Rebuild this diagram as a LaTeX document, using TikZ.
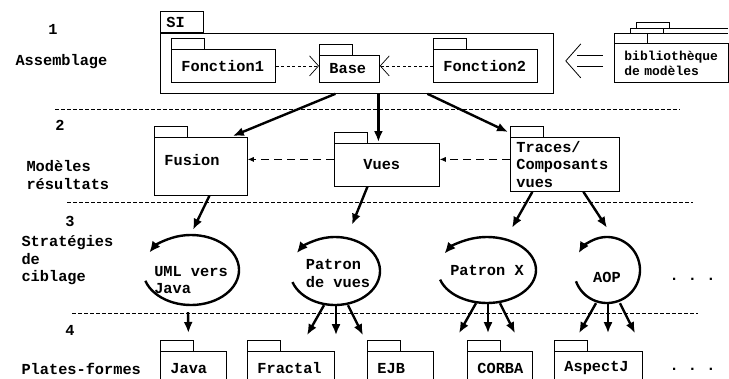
\documentclass[tikz,border=0pt]{standalone}
\usepackage{fontspec}
\setmonofont{Liberation Mono}
\usetikzlibrary{positioning, arrows.meta, shapes.geometric}
\newcommand{\pkgfont}{\ttfamily\bfseries\fontsize{15.3}{17.5}\selectfont}
\newcommand{\libfont}{\ttfamily\bfseries\fontsize{13}{15}\selectfont}
\newcommand{\pkgtab}[1]{\draw[pkgline] (#1.north west) rectangle ++(33,11);}
\tikzset{
pkgline/.style={line width=0.8pt},
pkg/.style={
  draw, 
  pkgline, 
  anchor=north west, 
  inner xsep=10pt, inner ysep=0pt,
  font=\pkgfont, align=left
  }, 
cycle/.style={ellipse, inner sep=0pt},
flow/.style={-{Latex[length=11pt,width=9pt]}, line width=2.4pt},
loop/.style={-{Latex[length=11pt,width=10pt]}, line width=2.4pt},
use/.style={-{Straight Barb[length=9pt,width=20pt]}, line width=0.7pt, dash pattern=on 3pt off 2.5pt},
dep/.style={-{Latex[length=6pt,width=5pt]}, line width=0.7pt, dash pattern=on 8pt off 5pt},
sep/.style={line width=0.7pt, dash pattern=on 3.5pt off 2.5pt},
level/.style={font=\pkgfont, anchor=west, align=left}
}
\begin{document}
\begin{tikzpicture}[x=1pt, y=1pt]
\useasboundingbox (0,0) rectangle (729,-378);

% niveaux
\node[font=\pkgfont] (n1) at (53,-29) {1};
\node[level] (l1) at (12,-62) {Assemblage};
\node[font=\pkgfont] (n2) at (60,-125) {2};
\node[level] (l2) at (23,-175) {Modèles\\résultats};
\node[font=\pkgfont] (n3) at (70,-221) {3};
\node[level] (l3) at (18,-260.5) {Stratégies\\de\\ciblage};
\node[font=\pkgfont] (n4) at (70,-330) {4};
\node[level] (l4) at (18,-368.5) {Plates-formes};

\draw[sep] (55,-109) -- (680,-109);
\draw[sep] (67,-202) -- (693,-202);
\draw[sep] (72,-313) -- (698,-313);

% 1: assemblage
\node[pkg, minimum width=393pt, minimum height=60pt] (si) at (160,-33) {};
\node[pkg, anchor=south west, inner xsep=6pt, text width=31pt, minimum height=21pt] (sitab) at (si.north west) {SI};
\node[pkg, text width=84pt, minimum height=33pt] (f1) at (171,-49) {Fonction1};
\node[pkg, text width=40pt, minimum height=27pt] (base) at (319,-55) {Base};
\node[pkg, text width=84pt, minimum height=33pt] (f2) at (433,-49) {Fonction2};
\pkgtab{f1}
\pkgtab{base}
\pkgtab{f2}
\draw[use] (f1.east) -- (base.west |- f1.east);
\draw[use] (f2.west) -- (base.east |- f2.west);

% bibliotheque
\draw[pkgline] (636,-28) rectangle (669,-22);
\draw[pkgline] (669,-28) -- (728,-28);
\draw[pkgline] (630,-33) rectangle (663,-28);
\draw[pkgline] (663,-33) -- (728,-33);
\node[pkg, font=\libfont, text width=94pt, minimum height=39pt] (lib) at (614,-43) {bibliothèque\\de modèles};
\draw[pkgline, fill=white] (lib.north west) rectangle ++(33,10);
\coordinate (libend) at ([shift={(-11pt,2pt)}]lib.west);
\coordinate (sitip) at ([shift={(12pt,2.5pt)}]si.east);
\draw[pkgline, double, double distance=10pt] (libend) -- ([xshift=11pt]sitip);
\draw[pkgline] ([shift={(15pt,17pt)}]sitip) -- (sitip) -- ([shift={(15pt,-17pt)}]sitip);

% 2: modeles resultats
\node[pkg, text width=73pt, text depth=12pt, minimum height=58pt] (fusion) at (154,-137) {Fusion};
\node[pkg, inner xsep=29pt, text width=47pt, minimum height=43pt] (vues) at (334,-143) {Vues};
\node[pkg, inner xsep=6pt, text width=97pt, minimum height=54pt] (traces) at (510,-137) {Traces/\\Composants\\vues};
\pkgtab{fusion}
\pkgtab{vues}
\pkgtab{traces}
\draw[dep] ([yshift=5.5pt]vues.west) coordinate (vw) -- (vw -| fusion.east);
\draw[dep] ([yshift=5pt]traces.west) coordinate (tw) -- (tw -| vues.east);

\draw[flow] ([xshift=-21.5pt]si.south) -- ([shift={(-15pt,1pt)}]fusion.north east);
\draw[flow] ([xshift=21.5pt]si.south) -- ([xshift=-8.5pt,yshift=1pt]vues.north);
\draw[flow] ([xshift=70.5pt]si.south) -- ([shift={(-2pt,5pt)}]traces.north west);

% 3: strategies de ciblage
\node[cycle, minimum width=96pt, minimum height=70pt] (uml) at (191,-270) {};
\node[cycle, minimum width=90pt, minimum height=68pt] (pdv) at (335,-271) {};
\node[cycle, minimum width=98pt, minimum height=66pt] (px) at (487,-270) {};
\node[cycle, minimum width=66pt, minimum height=66pt] (aop) at (607,-270) {};
\node[font=\pkgfont, align=left] (umltxt) at (191,-280) {UML vers\\Java};
\node[font=\pkgfont, align=left] (pdvtxt) at (338,-273.5) {Patron\\de vues};
\node[font=\pkgfont] (pxtxt) at (487,-270) {Patron X};
\node[font=\pkgfont] (aoptxt) at (607,-277) {AOP};
\node[font=\pkgfont] (dots3) at (692.5,-279) {. . .};

\draw[loop] ([shift={(198:48 and 35)}]uml.center) arc[start angle=198, end angle=510, x radius=48, y radius=35];
\draw[loop] ([shift={(199:45 and 34)}]pdv.center) arc[start angle=199, end angle=508, x radius=45, y radius=34];
\draw[loop] ([shift={(197:49 and 33)}]px.center) arc[start angle=197, end angle=510, x radius=49, y radius=33];
\draw[loop] ([shift={(200:33 and 33)}]aop.center) arc[start angle=200, end angle=509, x radius=33, y radius=33];

\draw[flow] ([xshift=8.5pt]fusion.south) -- ([shift={(2pt,5pt)}]uml.north);
\draw[flow] ([xshift=-19.5pt]vues.south) -- ([shift={(17pt,12pt)}]pdv.north);
\draw[flow] ([xshift=-32.5pt]traces.south) -- ([shift={(25pt,9pt)}]px.north);
\draw[flow] ([xshift=18.5pt]traces.south) -- ([yshift=9pt]aop.north);

% 4: plates-formes
\node[pkg, text width=46pt, minimum height=34pt] (java) at (160,-351) {Java};
\node[pkg, text width=67pt, minimum height=34pt] (fractal) at (247,-351) {Fractal};
\node[pkg, text width=46pt, minimum height=34pt] (ejb) at (367,-351) {EJB};
\node[pkg, text width=45pt, minimum height=34pt] (corba) at (467,-351) {CORBA};
\node[pkg, text width=68pt, minimum height=34pt] (aspectj) at (554,-351) {AspectJ};
\foreach \p in {java, fractal, ejb, corba, aspectj} {\pkgtab{\p}}
\node[font=\pkgfont] (dots4) at (692.5,-369) {. . .};

\draw[flow] ([shift={(-3pt,-7pt)}]uml.south) -- ([shift={(-5pt,18pt)}]java.north);
\foreach \c in {pdv, px, aop} {
  \draw[flow] ([xshift=-11pt]\c.south) -- ([shift={(-28pt,-30pt)}]\c.south);
  \draw[flow] ([xshift=1pt]\c.south) -- ([shift={(1pt,-30pt)}]\c.south);
  \draw[flow] ([xshift=13pt]\c.south) -- ([shift={(28pt,-30pt)}]\c.south);
}
\end{tikzpicture}
\end{document}
